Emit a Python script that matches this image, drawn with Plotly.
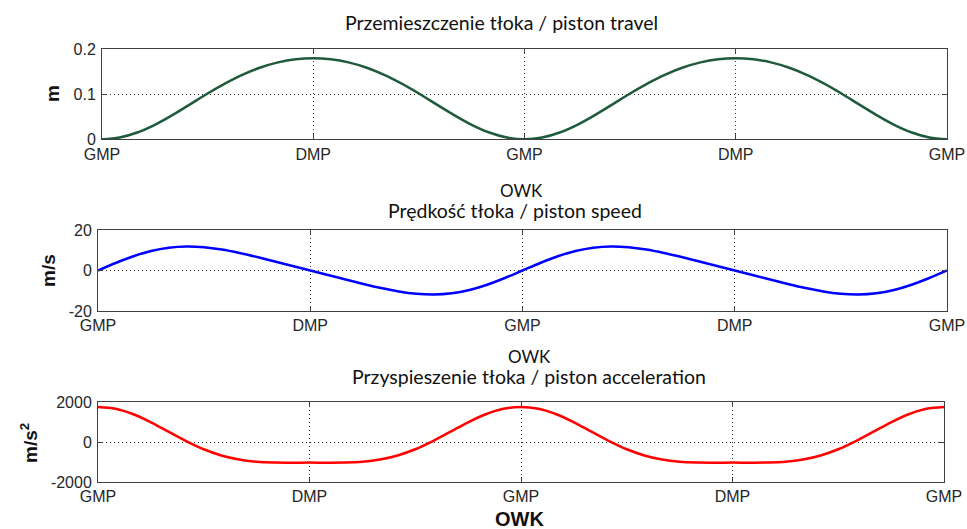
import plotly.graph_objects as go

# crank angle [deg]
angle = [0, 15, 30, 45, 60, 75, 90, 105, 120, 135, 150, 165, 180,
         195, 210, 225, 240, 255, 270, 285, 300, 315, 330, 345, 360,
         375, 390, 405, 420, 435, 450, 465, 480, 495, 510, 525, 540,
         555, 570, 585, 600, 615, 630, 645, 660, 675, 690, 705, 720]

# piston travel [m]
travel = [0.0, 0.0039, 0.0150, 0.0322, 0.0538, 0.0776, 0.1017, 0.1242, 0.1438, 0.1595, 0.1709, 0.1777, 0.1800,
          0.1777, 0.1709, 0.1595, 0.1438, 0.1242, 0.1017, 0.0776, 0.0538, 0.0322, 0.0150, 0.0039, 0.0,
          0.0039, 0.0150, 0.0322, 0.0538, 0.0776, 0.1017, 0.1242, 0.1438, 0.1595, 0.1709, 0.1777, 0.1800,
          0.1777, 0.1709, 0.1595, 0.1438, 0.1242, 0.1017, 0.0776, 0.0538, 0.0322, 0.0150, 0.0039, 0.0]

# piston speed [m/s]
speed = [0.0, 3.72, 7.04, 9.63, 11.25, 11.86, 11.50, 10.36, 8.66, 6.64, 4.46, 2.23, 0.0,
         -2.23, -4.46, -6.64, -8.66, -10.36, -11.50, -11.86, -11.25, -9.63, -7.04, -3.72, 0.0,
         3.72, 7.04, 9.63, 11.25, 11.86, 11.50, 10.36, 8.66, 6.64, 4.46, 2.23, 0.0,
         -2.23, -4.46, -6.64, -8.66, -10.36, -11.50, -11.86, -11.25, -9.63, -7.04, -3.72, 0.0]

# piston acceleration [m/s^2]
accel = [1755, 1659, 1387, 985, 515, 47, -362, -674, -878, -985, -1025, -1032, -1031,
         -1032, -1025, -985, -878, -674, -362, 47, 515, 985, 1387, 1659, 1755,
         1659, 1387, 985, 515, 47, -362, -674, -878, -985, -1025, -1032, -1031,
         -1032, -1025, -985, -878, -674, -362, 47, 515, 985, 1387, 1659, 1755]

x_tickvals = [0, 180, 360, 540, 720]
x_ticktext = ["GMP", "DMP", "GMP", "DMP", "GMP"]

y1_ticks = [0, 0.1, 0.2]
y1_text = ["0", "0.1", "0.2"]
y2_ticks = [-20, 0, 20]
y2_text = ["-20", "0", "20"]
y3_ticks = [-2000, 0, 2000]
y3_text = ["-2000", "0", "2000"]

W, H = 967, 529

def px(xp):
    return xp / W

def py(yp):
    return 1 - yp / H

fig = go.Figure()
fig.add_trace(go.Scatter(x=angle, y=travel, mode="lines", line=dict(color="#1f5a3a", width=2.5, shape="spline"),
                         xaxis="x", yaxis="y", showlegend=False))
fig.add_trace(go.Scatter(x=angle, y=speed, mode="lines", line=dict(color="#0000ff", width=2.5, shape="spline"),
                         xaxis="x2", yaxis="y2", showlegend=False))
fig.add_trace(go.Scatter(x=angle, y=accel, mode="lines", line=dict(color="#ff0000", width=2.5, shape="spline"),
                         xaxis="x3", yaxis="y3", showlegend=False))

tick_font = dict(family="Liberation Sans, Arial, sans-serif", size=16, color="#262626")
frame = "#404040"
grid_dash = "1px,3px"

def xax(domain, anchor):
    return dict(domain=domain, anchor=anchor, range=[0, 720], tickmode="array",
                tickvals=x_tickvals, ticktext=x_ticktext, tickfont=tick_font,
                showline=True, linecolor=frame, linewidth=1, mirror="ticks",
                ticks="inside", ticklen=5, tickcolor=frame,
                showgrid=True, gridcolor="#303030", griddash=grid_dash, gridwidth=1,
                zeroline=False, automargin=False, fixedrange=True)

def yax(domain, anchor, rng, tv, tt):
    return dict(domain=domain, anchor=anchor, range=rng, tickmode="array",
                tickvals=tv, ticktext=tt, tickfont=tick_font, ticklabelstandoff=2,
                showline=True, linecolor=frame, linewidth=1, mirror="ticks",
                ticks="inside", ticklen=5, tickcolor=frame,
                showgrid=True, gridcolor="#303030", griddash=grid_dash, gridwidth=1,
                zeroline=False, automargin=False, fixedrange=True)

title_font = dict(family="Lato, Carlito, sans-serif", size=19.5, color="#111111")
owk_font = dict(family="Lato, Carlito, sans-serif", size=17, color="#111111")
ylab_font = dict(family="Liberation Sans, Arial, sans-serif", size=19, color="#111111")

def ann(text, xp, yp, font, angle=0):
    return dict(text=text, x=px(xp), y=py(yp), xref="paper", yref="paper",
                xanchor="center", yanchor="middle", showarrow=False, font=font, textangle=angle)

fig.update_layout(
    width=W, height=H,
    margin=dict(l=0, r=0, t=0, b=0),
    paper_bgcolor="white", plot_bgcolor="white",
    template="none",
    hovermode=False,
    xaxis=xax([px(102), px(947)], "y"),
    yaxis=yax([py(139.3), py(49.3)], "x", [0, 0.2], y1_ticks, y1_text),
    xaxis2=xax([px(98), px(947)], "y2"),
    yaxis2=yax([py(311), py(230)], "x2", [-20, 20], y2_ticks, y2_text),
    xaxis3=xax([px(98), px(944)], "y3"),
    yaxis3=yax([py(482), py(402)], "x3", [-2000, 2000], y3_ticks, y3_text),
    annotations=[
        ann("Przemieszczenie tłoka / piston travel", 501.5, 22.5, title_font),
        ann("OWK", 521, 190.7, owk_font),
        ann("Prędkość tłoka / piston speed", 514.7, 210.7, title_font),
        ann("OWK", 529.5, 356.7, owk_font),
        ann("Przyspieszenie tłoka / piston acceleration", 529, 376, title_font),
        ann("<b>OWK</b>", 519, 519, dict(family="Liberation Sans, Arial, sans-serif", size=20, color="#111111")),
        ann("<b>m</b>", 52, 94, ylab_font, -90),
        ann("<b>m/s</b>", 48, 271, ylab_font, -90),
        ann("<b>m/s<sup>2</sup></b>", 29, 443, ylab_font, -90),
    ],
)

fig.write_html("out.html",
               config={"displayModeBar": False, "staticPlot": True},
               post_script="document.body.style.margin='0';document.body.style.overflow='hidden';")
